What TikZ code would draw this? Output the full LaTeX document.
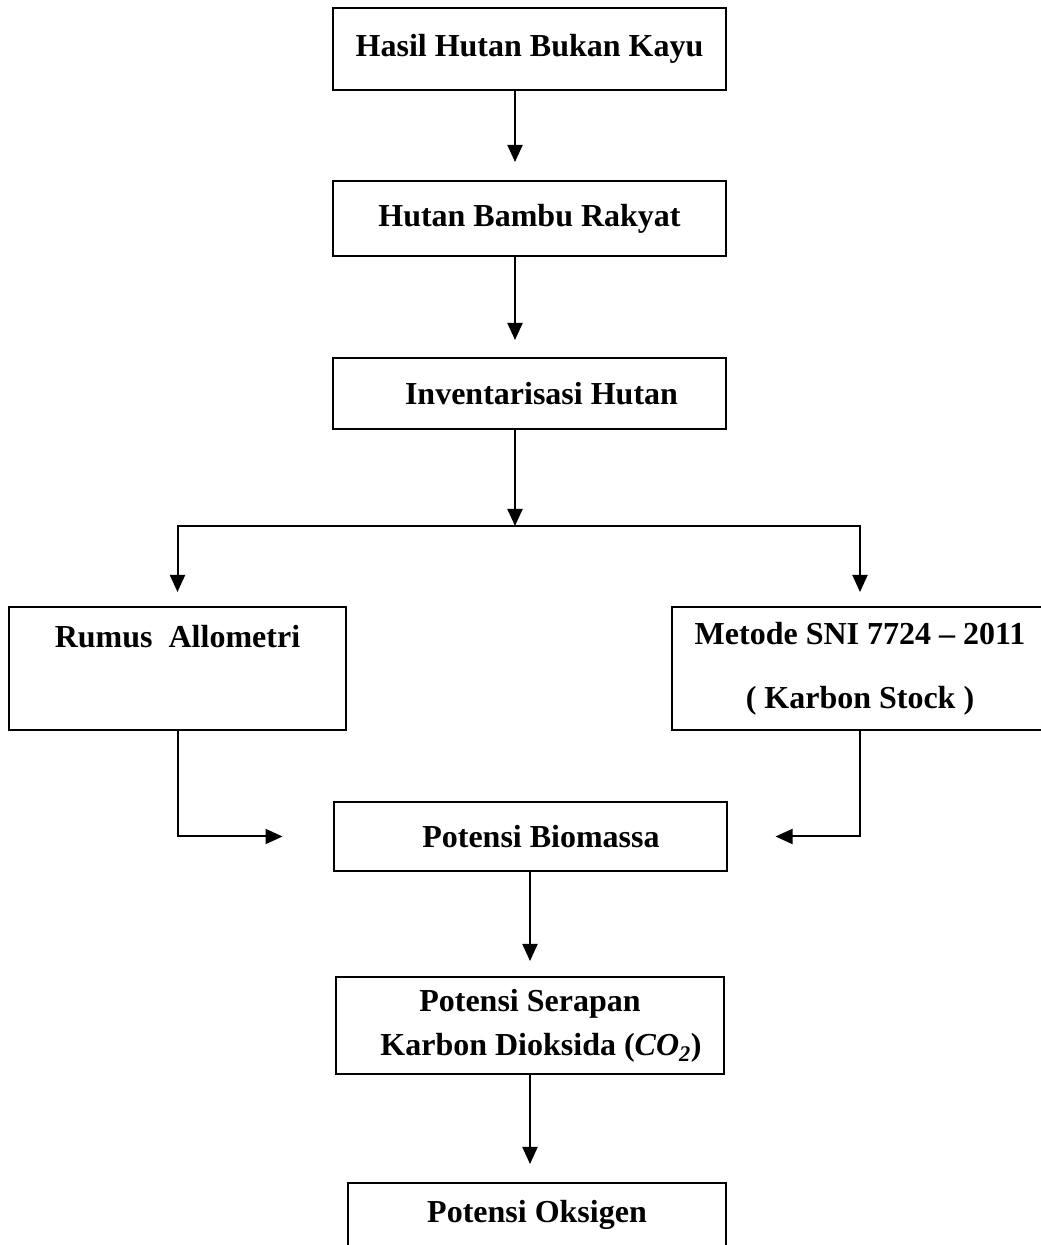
\documentclass[tikz,border=0pt]{standalone}
\usepackage{fontspec}
\setmainfont{Liberation Serif}
\usetikzlibrary{arrows.meta}
\tikzset{
	kotak/.style={draw,line width=2pt,inner sep=0pt,align=center,font=\fontsize{32}{38}\selectfont\bfseries},
	panah/.style={line width=2pt,-{Triangle[length=17pt,width=15pt]}}
}
\begin{document}
\begin{tikzpicture}[x=1pt,y=1pt]
		\useasboundingbox (0,0) rectangle (1041,1245);
		%
		\node[kotak,minimum width=393pt,minimum height=82pt] (hhbk) at (529.5,1196) {Hasil Hutan Bukan Kayu};
		\node[kotak,minimum width=393pt,minimum height=75pt] (hbr) at (529.5,1026.5) {Hutan Bambu Rakyat};
		\node[kotak,minimum width=393pt,minimum height=71pt] (inv) at (529.5,851.5) {\hspace{24pt}Inventarisasi Hutan};
		%
		\node[kotak,minimum width=337pt,minimum height=123pt,font=\fontsize{32}{64}\selectfont\bfseries] (ra) at (177.5,576.5) {Rumus\ \ Allometri\\\mbox{}};
		\node[kotak,minimum width=376pt,minimum height=123pt,font=\fontsize{32}{64}\selectfont\bfseries] (sni) at (860,576.5) {Metode SNI 7724 -- 2011\\( Karbon Stock )};
		%
		\node[kotak,minimum width=393pt,minimum height=69pt] (bio) at (530,408.5) {\hspace{22pt}Potensi Biomassa};
		\node[kotak,minimum width=388pt,minimum height=97pt,font=\fontsize{32}{44}\selectfont\bfseries] (co) at (530,219.5) {Potensi Serapan\\\hspace{22pt}Karbon Dioksida (\textit{CO}\textsubscript{\textit{2}})};
		\node[kotak,minimum width=378pt,minimum height=64pt] (oks) at (537,30) {Potensi Oksigen};
		%
		\coordinate (cab) at (515,719);
		%
		\draw[panah,shorten >=18pt] ([xshift=-14.5pt]hhbk.south) -- ([xshift=-14.5pt]hbr.north);
		\draw[panah,shorten >=17pt] ([xshift=-14.5pt]hbr.south) -- ([xshift=-14.5pt]inv.north);
		\draw[panah] (inv.south -| cab) -- (cab);
		\draw[panah,shorten >=14pt] (cab) -| (ra.north);
		\draw[panah,shorten >=14pt] (cab) -| (sni.north);
		%
		\draw[panah,shorten >=50pt] (ra.south) |- (bio.west);
		\draw[panah,shorten >=48pt] (sni.south) |- (bio.east);
		\draw[panah,shorten >=15pt] (bio.south) -- (bio.south |- co.north);
		\draw[panah,shorten >=18pt] (co.south) -- (co.south |- oks.north);
\end{tikzpicture}
\end{document}
